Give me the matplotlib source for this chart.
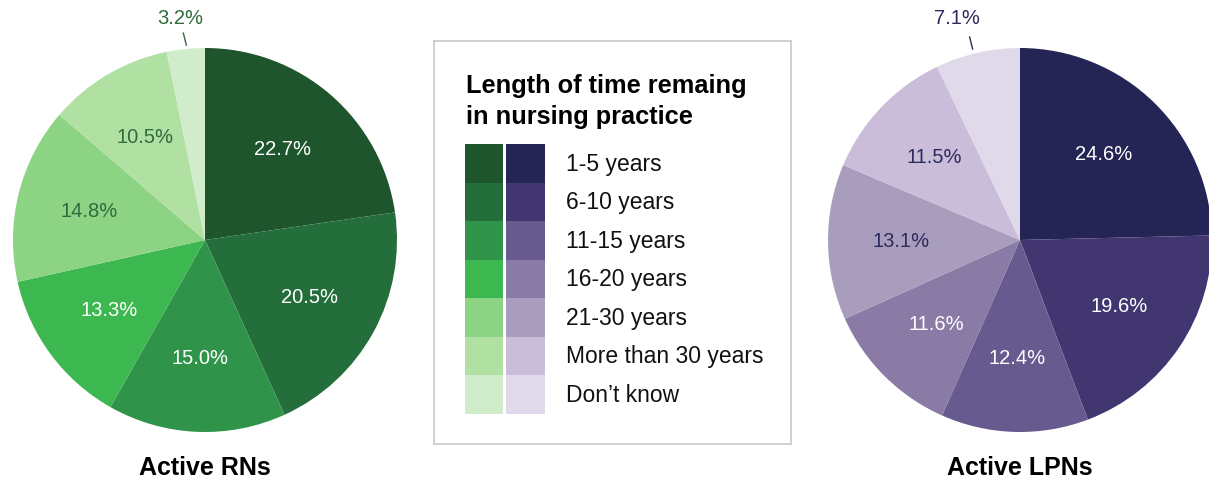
import matplotlib
matplotlib.use('Agg')
import matplotlib.pyplot as plt
from matplotlib.patches import Rectangle
import numpy as np

plt.rcParams['font.family'] = ['Liberation Sans', 'DejaVu Sans']

categories = ['1-5 years', '6-10 years', '11-15 years', '16-20 years',
              '21-30 years', 'More than 30 years', 'Don\u2019t know']
rn_values = [22.7, 20.5, 15.0, 13.3, 14.8, 10.5, 3.2]
lpn_values = [24.6, 19.6, 12.4, 11.6, 13.1, 11.5, 7.1]

greens = ['#1f552c', '#246e3c', '#2f944a', '#3db851', '#8dd384', '#b0e0a2', '#d0eccb']
purples = ['#242455', '#413670', '#675a8f', '#8a7aa6', '#a99dbe', '#cabdd9', '#dfd9e9']

W, H = 1209, 482
R = 192
fig = plt.figure(figsize=(W / 100, H / 100), dpi=100)


def px_axes(cx, cy, r):
    return fig.add_axes([(cx - r) / W, (H - cy - r) / H, 2 * r / W, 2 * r / H])


def draw_pie(ax, values, colors, title, dark_text, out_dx, line_dx):
    wedges, _ = ax.pie(values, colors=colors, startangle=90, counterclock=False,
                       radius=1, wedgeprops=dict(linewidth=0))
    ax.set_xlim(-1, 1)
    ax.set_ylim(-1, 1)
    ax.set_aspect('equal')
    ax.axis('off')
    for i, (w, v) in enumerate(zip(wedges, values)):
        ang = np.deg2rad((w.theta1 + w.theta2) / 2)
        txt = f'{v:.1f}%'
        if i < 4:
            ax.text(0.62 * np.cos(ang), 0.62 * np.sin(ang), txt, ha='center', va='center',
                    color='white', fontsize=14.5)
        elif i < 6:
            ax.text(0.62 * np.cos(ang), 0.62 * np.sin(ang), txt, ha='center', va='center',
                    color=dark_text, fontsize=14.5)
        else:
            x0, y0 = 1.02 * np.cos(ang) + line_dx / R, 1.02 * np.sin(ang)
            x1, y1 = x0 - 3 / R, y0 + 12 / R
            ax.plot([x0, x1], [y0, y1], color=dark_text, lw=1, clip_on=False)
            ax.text(x0 + out_dx / R, 1.155, txt, ha='center', va='center',
                    color=dark_text, fontsize=14.5, clip_on=False)
    ax.text(0, -1.19, title, ha='center', va='center', fontsize=18,
            fontweight='bold', color='black', clip_on=False)


ax1 = px_axes(205, 240, R)
draw_pie(ax1, rn_values, greens, 'Active RNs', '#2e6b3d', -6, 1)
ax2 = px_axes(1020, 240, R)
draw_pie(ax2, lpn_values, purples, 'Active LPNs', '#2b2a5c', -16, -4)

# legend box
lx0, ly0, lx1, ly1 = 434, 41, 791, 444
lax = fig.add_axes([lx0 / W, (H - ly1) / H, (lx1 - lx0) / W, (ly1 - ly0) / H])
lax.set_xlim(lx0, lx1)
lax.set_ylim(ly1, ly0)
lax.set_xticks([])
lax.set_yticks([])
for s in lax.spines.values():
    s.set_color('#c8c8c8')
    s.set_linewidth(1.2)

lax.text(466, 86, 'Length of time remaing', fontsize=18.3, fontweight='bold', va='center')
lax.text(466, 117, 'in nursing practice', fontsize=18.3, fontweight='bold', va='center')

top, row_h = 144, 38.5
for i, cat in enumerate(categories):
    y = top + i * row_h
    lax.add_patch(Rectangle((465, y), 38, row_h, facecolor=greens[i], edgecolor='none'))
    lax.add_patch(Rectangle((506, y), 39, row_h, facecolor=purples[i], edgecolor='none'))
    lax.text(566, y + row_h / 2 + 1, cat, fontsize=16.5, va='center', color='#111111')

fig.savefig('out.png', dpi=100)
